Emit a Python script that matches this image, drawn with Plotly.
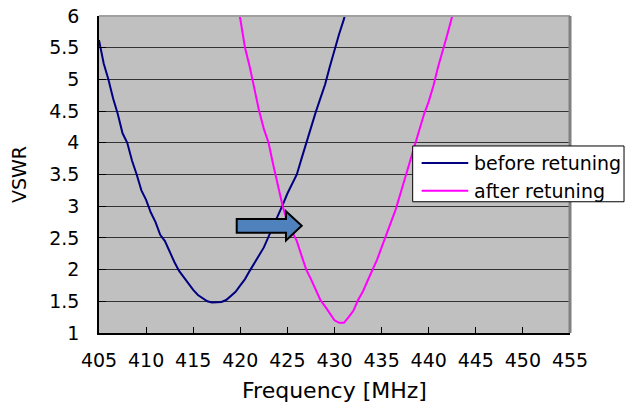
import plotly.graph_objects as go

# ---- data ----
freq_before = [405, 405.5, 406, 406.5, 407, 407.5, 408, 408.5, 409, 409.5, 410, 410.5,
               411, 411.5, 412, 412.5, 413, 413.5, 414, 414.5, 415, 415.5, 416, 416.5,
               417, 417.5, 418, 418.5, 419, 419.5, 420, 420.5, 421, 421.5, 422, 422.5,
               423, 423.5, 424, 424.5, 425, 425.5, 426, 426.5, 427, 427.5, 428, 428.5,
               429, 429.5, 430, 430.5, 431, 431.5]
vswr_before = [5.62, 5.25, 5.0, 4.7, 4.45, 4.15, 4.0, 3.72, 3.5, 3.25, 3.1, 2.9,
               2.75, 2.55, 2.45, 2.28, 2.12, 1.98, 1.88, 1.78, 1.68, 1.6, 1.55, 1.5,
               1.48, 1.48, 1.49, 1.52, 1.58, 1.65, 1.75, 1.85, 1.98, 2.1, 2.22, 2.35,
               2.52, 2.68, 2.85, 3.02, 3.2, 3.35, 3.5, 3.75, 4.0, 4.22, 4.48, 4.7,
               4.92, 5.2, 5.48, 5.72, 5.95, 6.25]

freq_after = [419.5, 420, 420.5, 421, 421.5, 422, 422.5, 423, 423.5, 424, 424.5, 425,
              425.5, 426, 426.5, 427, 427.5, 428, 428.5, 429, 429.5, 430, 430.5, 431,
              431.5, 432, 432.5, 433, 433.5, 434, 434.5, 435, 435.5, 436, 436.5, 437,
              437.5, 438, 438.5, 439, 439.5, 440, 440.5, 441, 441.5, 442, 442.5, 443]
vswr_after = [6.3, 5.95, 5.5, 5.2, 4.85, 4.5, 4.22, 4.0, 3.65, 3.3, 3.0, 2.75,
              2.6, 2.45, 2.22, 2.0, 1.85, 1.68, 1.52, 1.42, 1.3, 1.2, 1.16, 1.16,
              1.25, 1.35, 1.52, 1.65, 1.82, 1.98, 2.15, 2.35, 2.55, 2.75, 2.95, 3.2,
              3.45, 3.7, 3.95, 4.2, 4.45, 4.65, 4.9, 5.2, 5.45, 5.72, 6.0, 6.3]

x_ticks = [405, 410, 415, 420, 425, 430, 435, 440, 445, 450, 455]
y_ticks = [1, 1.5, 2, 2.5, 3, 3.5, 4, 4.5, 5, 5.5, 6]
y_ticktext = ["1", "1.5", "2", "2.5", "3", "3.5", "4", "4.5", "5", "5.5", "6"]

series_names = ["before retuning", "after retuning"]
series_colors = ["#000080", "#FF00FF"]

# arrow annotation outline (data units)
arrow_x = [419.62, 424.85, 424.85, 426.52, 424.85, 424.85, 419.62]
arrow_y = [2.80, 2.80, 2.92, 2.69, 2.46, 2.58, 2.58]

FONT = "DejaVu Sans"

fig = go.Figure()
fig.add_trace(go.Scatter(x=freq_before, y=vswr_before, mode="lines", name=series_names[0],
                         line=dict(color=series_colors[0], width=2), showlegend=False))
fig.add_trace(go.Scatter(x=freq_after, y=vswr_after, mode="lines", name=series_names[1],
                         line=dict(color=series_colors[1], width=2), showlegend=False))

path = "M " + " L ".join(f"{x},{y}" for x, y in zip(arrow_x, arrow_y)) + " Z"
fig.add_shape(type="path", path=path, xref="x", yref="y",
              fillcolor="#4F81BD", line=dict(color="black", width=2), layer="above")

# top and right frame
fig.add_shape(type="line", xref="paper", yref="paper", x0=0, x1=1, y0=1, y1=1,
              line=dict(color="#A0A0A0", width=2), layer="above")
fig.add_shape(type="line", xref="paper", yref="paper", x0=1, x1=1, y0=0, y1=1,
              line=dict(color="#808080", width=3), layer="above")

# legend box (drawn manually)
fig.add_shape(type="rect", xref="paper", yref="paper", x0=0.666, x1=1.1147, y0=0.414, y1=0.590,
              fillcolor="white", line=dict(color="black", width=1), layer="above")
legend_rows_y = [0.536, 0.449]
for name, color, ly in zip(series_names, series_colors, legend_rows_y):
    fig.add_shape(type="line", xref="paper", yref="paper", x0=0.685, x1=0.784, y0=ly, y1=ly,
                  line=dict(color=color, width=2), layer="above")
    fig.add_annotation(xref="paper", yref="paper", x=0.792, y=ly, text=name, showarrow=False,
                       xanchor="left", yanchor="middle",
                       font=dict(family=FONT, size=19, color="black"))

fig.update_layout(
    width=627, height=403,
    margin=dict(l=99, r=57, t=16, b=70),
    paper_bgcolor="white",
    plot_bgcolor="#C0C0C0",
    font=dict(family=FONT, color="black"),
    showlegend=False,
    xaxis=dict(range=[405, 455], tickvals=x_ticks, ticks="inside", ticklen=6,
               tickcolor="black", showgrid=False, zeroline=False, automargin=False,
               showline=True, linecolor="black", linewidth=1.5,
               tickfont=dict(family=FONT, size=19), ticklabelstandoff=9,
               title=dict(text="Frequency [MHz]", font=dict(family=FONT, size=22), standoff=22)),
    yaxis=dict(range=[1, 6], tickvals=y_ticks, ticktext=y_ticktext, ticks="inside", ticklen=7,
               tickcolor="black", showgrid=True, gridcolor="#333333", gridwidth=1,
               zeroline=False, showline=True, linecolor="black", linewidth=1.5, automargin=False,
               tickfont=dict(family=FONT, size=19), ticklabelstandoff=14,
               title=dict(text="VSWR", font=dict(family=FONT, size=19), standoff=18)),
)

fig.write_html("out.html")
